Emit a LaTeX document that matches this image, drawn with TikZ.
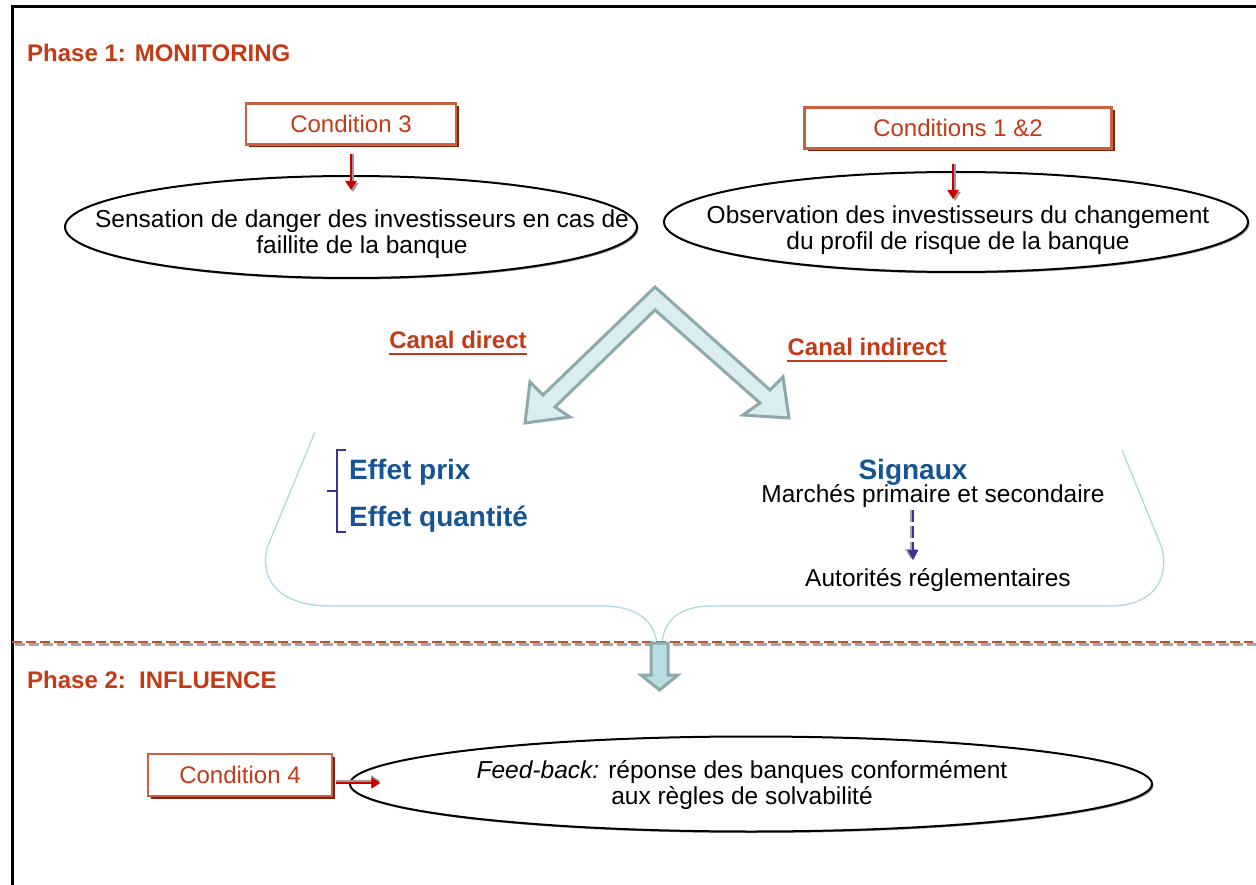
\documentclass[tikz,border=0pt]{standalone}
\usepackage{fontspec}
\setmainfont{Liberation Sans}
\usetikzlibrary{shapes.geometric,arrows.meta,shadows,calc}
\definecolor{phase}{RGB}{195,58,22}
\definecolor{boxred}{RGB}{205,95,65}
\definecolor{boxdark}{RGB}{125,35,12}
\definecolor{effblue}{RGB}{22,84,150}
\definecolor{bigfill}{RGB}{218,237,240}
\definecolor{bigedge}{RGB}{143,168,170}
\definecolor{downfill}{RGB}{183,222,226}
\definecolor{bracecol}{RGB}{172,218,224}
\definecolor{smallbrace}{RGB}{60,50,140}
\definecolor{sigarrow}{RGB}{55,50,150}
\definecolor{arrred}{RGB}{200,0,0}
\begin{document}
\begin{tikzpicture}[x=1pt,y=-1pt,
  txt/.style={font=\fontsize{24.5}{26}\selectfont, align=center, inner sep=0},
  phasetxt/.style={font=\fontsize{24}{28}\selectfont\bfseries, text=phase, inner sep=0, anchor=west},
  canaltxt/.style={font=\fontsize{24}{28}\selectfont\bfseries, text=phase, inner sep=0},
  efftxt/.style={font=\fontsize{28}{30}\selectfont\bfseries, text=effblue, inner sep=0},
  condbox/.style={draw=boxred, line width=2.5, fill=white, text=phase,
     font=\fontsize{24}{28}\selectfont, inner sep=0,
     drop shadow={shadow xshift=3pt, shadow yshift=-3pt, fill=boxdark, opacity=1}},
  ell/.style={ellipse, draw=black, line width=2, fill=white, inner sep=0,
     drop shadow={shadow xshift=1.5pt, shadow yshift=-1.5pt, fill=black!45, opacity=1}},
  redarr/.style={line width=2.2, draw=arrred, -{Triangle[length=9pt,width=11pt]}},
  shadarr/.style={line width=2.2, draw=black!40, -{Triangle[length=9pt,width=11pt]}},
]
\useasboundingbox (0,0) rectangle (1256,885);
% frame
\draw[line width=3] (12,885) -- (12,7) -- (1256,7);

% phase titles
\node[phasetxt] (ph1) at (27,53) {Phase 1: MONITORING};
\node[phasetxt] (ph2) at (27,680) {Phase 2:\ \ INFLUENCE};

% condition boxes
\node[condbox, minimum width=210, minimum height=41] (c3) at (351,124) {Condition 3};
\node[condbox, minimum width=307, minimum height=41] (c12) at (958,128) {Conditions 1 \&2};

% ellipses
\node[ell, minimum width=572, minimum height=102] (e1) at (351,227) {};
\node[txt] (e1t) at (362,234) {Sensation de danger des investisseurs en cas de\\faillite de la banque};
\node[ell, minimum width=584, minimum height=100] (e2) at (956,222) {};
\node[txt] (e2t) at (958,230) {Observation des investisseurs du changement\\du profil de risque de la banque};

% small arrows condition -> ellipse
\draw[shadarr, shorten >=-15] ([xshift=2]c3.south) ++(0,8) -- ([xshift=2,yshift=-2]e1.north) ;
\draw[redarr, shorten >=-15] (c3.south) ++(0,8) -- (e1.north);
\draw[shadarr, shorten >=-28] ([xshift=-3]c12.south) ++(0,14) -- ([xshift=-1,yshift=-2]e2.north);
\draw[redarr, shorten >=-28] ([xshift=-5]c12.south) ++(0,14) -- ([xshift=-3]e2.north);

% big V arrow
\draw[line width=3, draw=bigedge, fill=bigfill, line join=miter]
  (655,287) -- (770,390) -- (783,377) -- (789,418) -- (743,415) -- (760,403)
  -- (655,310) -- (555,407) -- (570,417) -- (525,423) -- (530,382) -- (543,395) -- cycle;

% canal labels
\node[canaltxt] (cd) at (458,340) {Canal direct};
\node[canaltxt] (ci) at (867,347) {Canal indirect};
\draw[phase, line width=2] ($(cd.base west)+(0,5)$) -- ($(cd.base east)+(0,5)$);
\draw[phase, line width=2] ($(ci.base west)+(0,5)$) -- ($(ci.base east)+(0,5)$);

% big brace shape
\draw[bracecol, line width=1.3]
  (315,432) -- (267,548) .. controls (259,585) and (285,606) .. (330,606)
  -- (603,606) .. controls (638,606) and (654,622) .. (657,643);
\draw[bracecol, line width=1.3]
  (1122,450) -- (1162,548) .. controls (1170,585) and (1148,606) .. (1110,606)
  -- (712,606) .. controls (677,606) and (664,622) .. (662,643);

% small brace
\draw[smallbrace, line width=1.3] (346,450) -- (337,450) -- (337,532) -- (346,532);
\draw[smallbrace, line width=1.3] (327,491) -- (337,491);

% effects
\node[efftxt, anchor=west] (ep) at (349,472) {Effet prix};
\node[efftxt, anchor=west] (eq) at (349,519) {Effet quantité};

% signaux
\node[efftxt] (sg) at (913,472) {Signaux};
\node[txt] (mp) at (933,496) {Marchés primaire et secondaire};
\node[txt] (ar) at (938,580) {Autorités réglementaires};
\draw[line width=2.5, draw=black!35, dash pattern=on 12pt off 4pt, -{Triangle[length=10pt,width=11pt]}]
  ([xshift=-2,yshift=-2]mp.south -| sg) -- ([xshift=-2,yshift=9]ar.north -| sg);
\draw[line width=2, draw=sigarrow, dash pattern=on 12pt off 4pt, -{Triangle[length=10pt,width=10pt]}]
  ([yshift=-2]mp.south -| sg) -- ([yshift=8]ar.north -| sg);

% dashed separator
\coordinate (sepL) at (15,643);
\coordinate (sepR) at (1256,643);
\draw[black!35, line width=2.5, dash pattern=on 10pt off 4pt] ([yshift=-1.5]sepL) -- ([yshift=-1.5]sepR);
\draw[phase!90, line width=1.6, dash pattern=on 10pt off 4pt] ([xshift=-3,yshift=1]sepL) -- ([xshift=-3,yshift=1]sepR);

% down block arrow
\draw[line width=3, draw=bigedge, fill=downfill, line join=miter]
  (651,643) -- (668,643) -- (668,675) -- (678,675) -- (659.5,690) -- (641,675) -- (651,675) -- cycle;

% condition 4 and feedback ellipse
\node[condbox, minimum width=184, minimum height=42] (c4) at (240,775) {Condition 4};
\node[ell, minimum width=802, minimum height=95] (e3) at (751,784) {};
\node[txt] (e3t) at (742,785) {\textit{Feed-back:} réponse des banques conformément\\aux règles de solvabilité};
\draw[shadarr, line width=3] ([xshift=3,yshift=-6]c4.east) -- ++(44,0);
\draw[redarr] ([xshift=3,yshift=-8]c4.east) -- ++(44,0);
\end{tikzpicture}
\end{document}
